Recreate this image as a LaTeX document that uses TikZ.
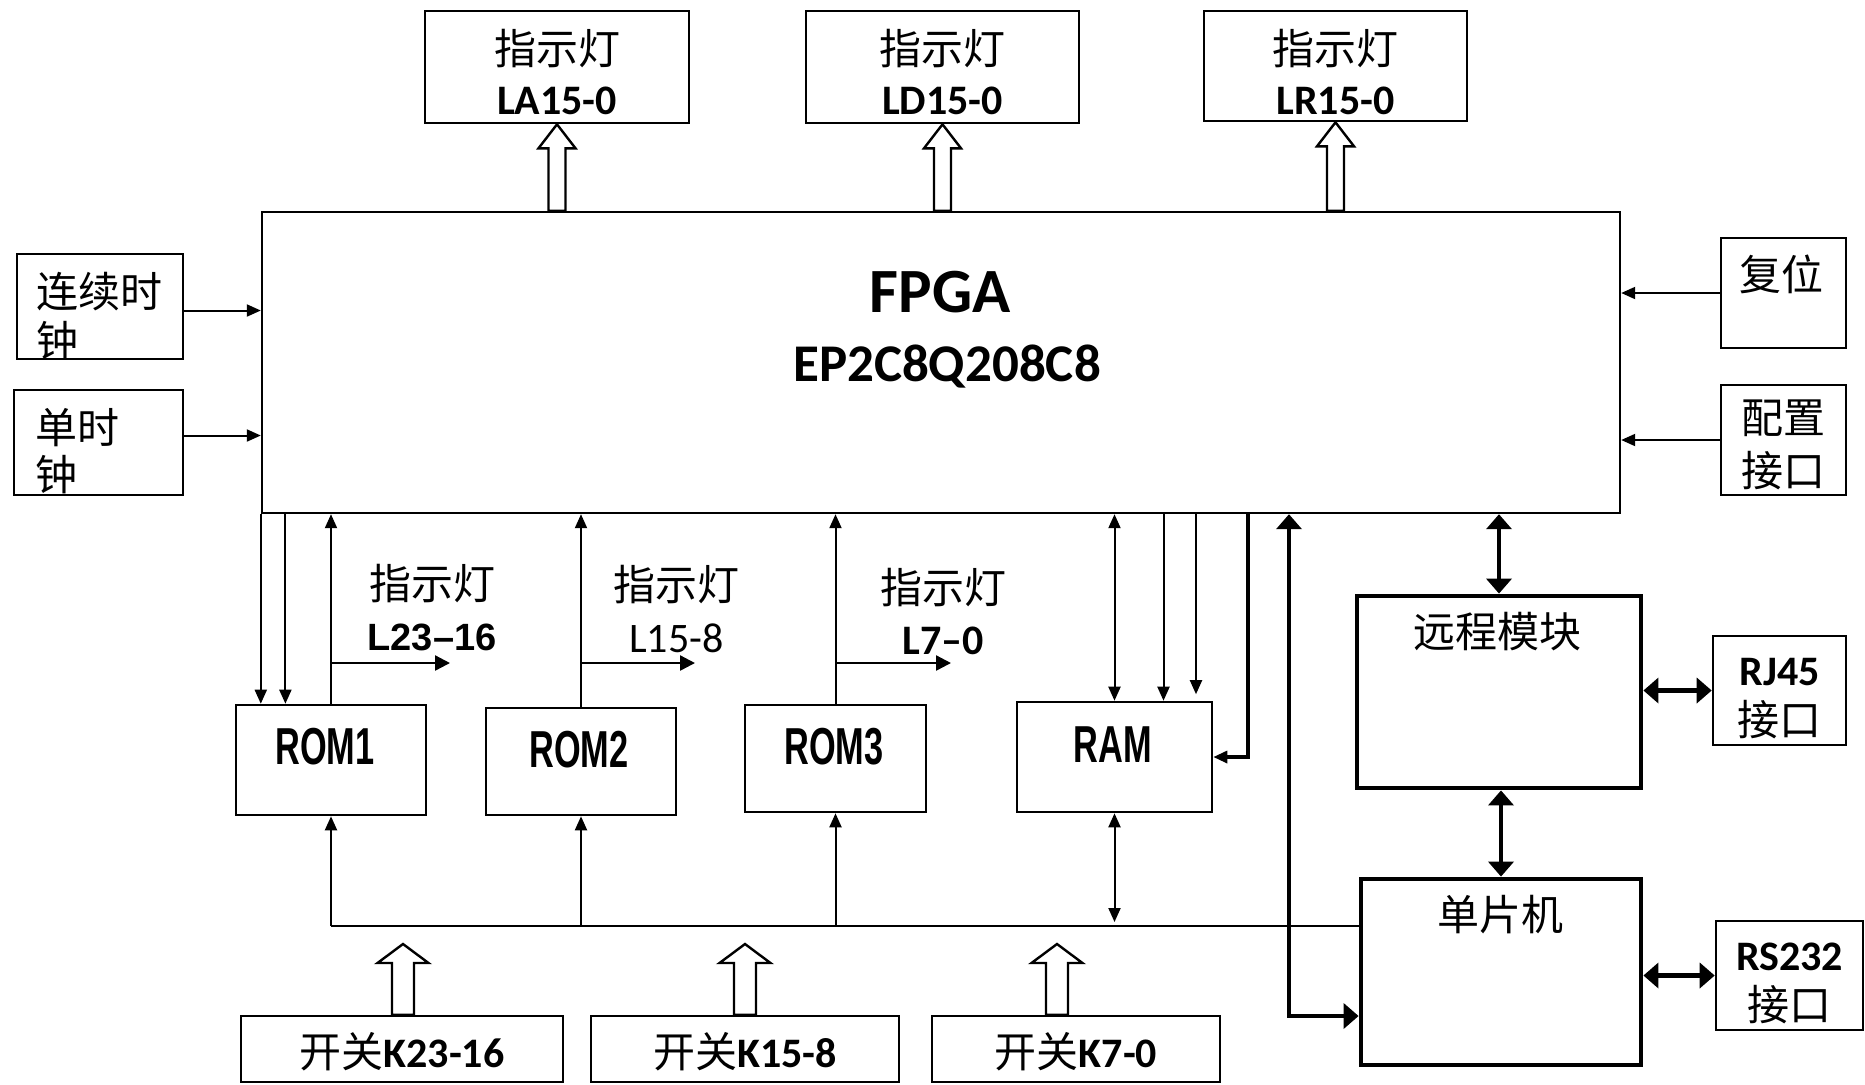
\documentclass[tikz,border=0pt]{standalone}
\usepackage{fontspec}
\setmainfont{Carlito}
\newfontfamily\cjk{Noto Sans CJK SC}
\newfontfamily\arialf{Liberation Sans}
\newfontfamily\narrowf[FakeStretch=0.66]{Liberation Sans}
\usetikzlibrary{arrows.meta,calc}

\newcommand{\fs}{\fontsize{21}{25}\selectfont}
% hollow bus arrow: from, tip, half shaft, half head, head length
\newcommand{\busarrow}[5]{%
  \draw[line width=1.2pt,fill=white] let \p1=(#1), \p2=(#2) in
    (\x1-#3,\y1) -- (\x1-#3,\y2-#5) -- (\x1-#4,\y2-#5) -- (\x1,\y2)
    -- (\x1+#4,\y2-#5) -- (\x1+#3,\y2-#5) -- (\x1+#3,\y1) -- cycle;}

\begin{document}
\begin{tikzpicture}[x=0.5pt,y=-0.5pt,
  box/.style={draw,line width=1.3pt,inner sep=0pt,align=center,font=\fs},
  bigbox/.style={draw,line width=2.4pt,inner sep=0pt},
  txt/.style={inner sep=0pt,align=center,font=\fs},
  romtxt/.style={inner sep=0pt,font=\fontsize{26}{30}\selectfont\narrowf\bfseries},
  arr/.style={line width=1pt,-{Triangle[length=7pt,width=6pt]}},
  dbl/.style={line width=1pt,{Triangle[length=7pt,width=6pt]}-{Triangle[length=7pt,width=6pt]}},
  side/.style={line width=1.2pt,-{Triangle[length=7.5pt,width=7.5pt]}},
  fat/.style={line width=2.2pt,{Triangle[length=7.5pt,width=12.5pt]}-{Triangle[length=7.5pt,width=12.5pt]}}]

\useasboundingbox (0,0) rectangle (1865,1084);

% lamps on top
\node[box,minimum width=132pt,minimum height=56pt] (la) at (557,67) {};
\node[txt] (lat) at (557,72) {{\cjk 指示灯}\\\textbf{LA15-0}};
\node[box,minimum width=136.5pt,minimum height=56pt] (ld) at (942.5,67) {};
\node[txt] (ldt) at (942.5,72) {{\cjk 指示灯}\\\textbf{LD15-0}};
\node[box,minimum width=131.5pt,minimum height=55pt] (lr) at (1335.5,66) {};
\node[txt] (lrt) at (1335.5,72) {{\cjk 指示灯}\\\textbf{LR15-0}};

% fpga
\node[box,line width=1.2pt,minimum width=679pt,minimum height=150.5pt] (fpga) at (941,362.5) {};
\node[txt,font=\fontsize{31.5}{36}\selectfont\bfseries] (fpgat) at (940,292) {FPGA};
\node[txt,font=\fontsize{26.5}{30}\selectfont\bfseries] (chip) at (947,367) {EP2C8Q208C8};

% clocks, reset, config
\node[box,minimum width=83pt,minimum height=52.5pt] (clk1) at (100,306.5) {};
\node[txt,anchor=west,align=left,font=\fontsize{21}{24.5}\selectfont\cjk] (clk1t) at (36,316) {连续时\\钟};
\node[box,minimum width=84.5pt,minimum height=52.5pt] (clk2) at (98.5,442.5) {};
\node[txt,anchor=west,align=left,font=\fontsize{21}{23.5}\selectfont\cjk] (clk2t) at (35,451) {单时\\钟};
\node[box,minimum width=62.5pt,minimum height=55pt] (rst) at (1783.5,293) {};
\node[txt,font=\fs\cjk] (rstt) at (1781,274) {复位};
\node[box,minimum width=62.5pt,minimum height=55pt] (cfg) at (1783.5,440) {};
\node[txt,font=\fontsize{21}{26.5}\selectfont\cjk] (cfgt) at (1783.5,445) {配置\\接口};

% memories
\node[box,minimum width=95pt,minimum height=55pt] (rom1) at (331,760) {};
\node[romtxt] (rom1t) at (325,747) {ROM1};
\node[box,minimum width=95pt,minimum height=53.5pt] (rom2) at (581,761.5) {};
\node[romtxt] (rom2t) at (579,750) {ROM2};
\node[box,minimum width=90.5pt,minimum height=53.5pt] (rom3) at (835.5,758.5) {};
\node[romtxt] (rom3t) at (834,747) {ROM3};
\node[box,minimum width=97.5pt,minimum height=55pt] (ram) at (1114.5,757) {};
\node[romtxt] (ramt) at (1113,745) {RAM};

% lamp labels
\node[txt,font=\fontsize{21}{25.5}\selectfont] (led1) at (432,607.5) {{\cjk 指示灯}\\{\arialf\bfseries\fontsize{19}{25.5}\selectfont L23–16}};
\node[txt,font=\fontsize{21}{26}\selectfont] (led2) at (676.5,609) {{\cjk 指示灯}\\L15-8};
\node[txt,font=\fontsize{21}{25.5}\selectfont] (led3) at (943,611) {{\cjk 指示灯}\\\textbf{L7–0}};

% remote, mcu, ports
\node[bigbox,minimum width=142pt,minimum height=96pt] (remote) at (1499,692) {};
\node[txt,font=\fs\cjk] (remotet) at (1497.5,632) {远程模块};
\node[bigbox,minimum width=140pt,minimum height=93pt] (mcu) at (1501,972) {};
\node[txt,font=\fs\cjk] (mcut) at (1500,915) {单片机};
\node[box,minimum width=66.5pt,minimum height=54.5pt] (rj45) at (1779.5,690.5) {};
\node[txt] (rj45t) at (1779.5,698.5) {\textbf{RJ45}\\{\cjk 接口}};
\node[box,minimum width=73.5pt,minimum height=54.5pt] (rs232) at (1789.5,975.5) {};
\node[txt] (rs232t) at (1789.5,983.5) {\textbf{RS232}\\{\cjk 接口}};

% switches
\node[box,minimum width=161pt,minimum height=33pt] (k1) at (402,1049) {};
\node[txt] (k1t) at (402,1051.5) {{\cjk 开关}\textbf{K23-16}};
\node[box,minimum width=154pt,minimum height=33pt] (k2) at (745,1049) {};
\node[txt] (k2t) at (745,1051.5) {{\cjk 开关}\textbf{K15-8}};
\node[box,minimum width=144pt,minimum height=33pt] (k3) at (1076,1049) {};
\node[txt] (k3t) at (1076,1051.5) {{\cjk 开关}\textbf{K7-0}};

\coordinate (l1) at (450,663);
\coordinate (l2) at (695,663);
\coordinate (l3) at (951,663);
\coordinate (bus) at (331,926);
\coordinate (ramc) at (1248,757);
\coordinate (mcuc) at (1289,1016);
\coordinate (k1tip) at (403,944);
\coordinate (k2tip) at (745,944);
\coordinate (k3tip) at (1057,944);
\coordinate (r1d) at ($(fpga.south west)+(24.6,0)$);
\coordinate (ramd1) at ($(ram.north)+(49,0)$);
\coordinate (ramd2) at ($(ram.north)+(81.5,-6.5)$);

% inputs
\draw[arr] ($(clk1.east)+(0,4)$) -- ($(clk1.east -| fpga.west)+(0,4)$);
\draw[arr] ($(clk2.east)+(0,-7)$) -- ($(clk2.east -| fpga.west)+(0,-7)$);
\draw[arr] (rst.west) -- (rst.west -| fpga.east);
\draw[arr] (cfg.west) -- (cfg.west -| fpga.east);

% fpga and roms
\draw[arr] (fpga.south west) -- (fpga.south west |- rom1.north);
\draw[arr] (r1d) -- (r1d |- rom1.north);
\draw[arr] (rom1.north) -- (rom1.north |- fpga.south);
\draw[side] (rom1.north |- l1) -- (l1);
\draw[arr] (rom2.north) -- (rom2.north |- fpga.south);
\draw[side] (rom2.north |- l2) -- (l2);
\draw[arr] (rom3.north) -- (rom3.north |- fpga.south);
\draw[side] (rom3.north |- l3) -- (l3);

% fpga and ram
\draw[dbl] (ram.north |- fpga.south) -- (ram.north);
\draw[arr] (ramd1 |- fpga.south) -- (ramd1);
\draw[arr] (ramd2 |- fpga.south) -- (ramd2);
\draw[arr,line width=1.6pt] (ramc |- fpga.south) -- (ramc) -- (ram.east);

% fpga, remote, mcu
\draw[fat] (mcuc |- fpga.south) -- (mcuc) -- (mcuc -| mcu.west);
\draw[fat] (remote.north |- fpga.south) -- (remote.north);
\draw[fat] (mcu.north |- remote.south) -- (mcu.north);
\draw[fat] (rj45.west -| remote.east) -- (rj45.west);
\draw[fat] (rs232.west -| mcu.east) -- (rs232.west);

% bus
\draw[line width=1pt] (bus) -- (bus -| mcu.west);
\draw[arr] (bus) -- (rom1.south);
\draw[arr] (rom2.south |- bus) -- (rom2.south);
\draw[arr] (rom3.south |- bus) -- (rom3.south);
\draw[dbl] (ram.south) -- ($(ram.south |- bus)+(0,-4)$);

% hollow arrows
\busarrow{fpga.north -| la}{la.south}{4.25pt}{9.25pt}{12pt}
\busarrow{fpga.north -| ld}{ld.south}{4.25pt}{9.25pt}{12pt}
\busarrow{fpga.north -| lr}{lr.south}{4.25pt}{9.25pt}{12pt}
\busarrow{k1.north -| k1tip}{k1tip}{5.5pt}{12.75pt}{9.5pt}
\busarrow{k2.north -| k2tip}{k2tip}{5.5pt}{12.75pt}{9.5pt}
\busarrow{k3.north -| k3tip}{k3tip}{5.5pt}{12.75pt}{9.5pt}
\end{tikzpicture}
\end{document}
